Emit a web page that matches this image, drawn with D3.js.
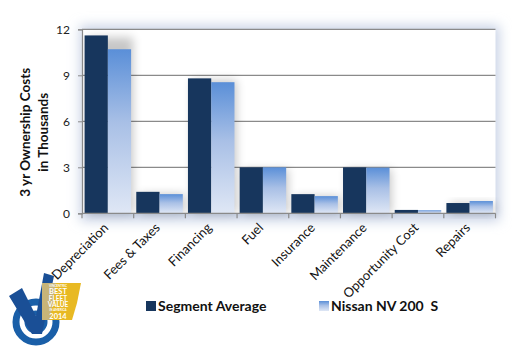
<!DOCTYPE html>
<html>
<head>
<meta charset="utf-8">
<script src="https://cdn.jsdelivr.net/npm/d3@7"></script>
<style>
  body { margin: 0; background: #fff; }
  text { font-family: Lato, "Open Sans", sans-serif; }
</style>
</head>
<body>
<div id="chart"></div>
<script>
// data
var categories = ["Depreciation", "Fees & Taxes", "Financing", "Fuel", "Insurance", "Maintenance", "Opportunity Cost", "Repairs"];
var segmentAvg = [11.6, 1.4, 8.8, 3.0, 1.25, 3.0, 0.22, 0.67];
var nissan = [10.7, 1.25, 8.55, 3.0, 1.12, 2.98, 0.2, 0.8];
var seriesNames = ["Segment Average", "Nissan NV 200  S"];
var yTicks = [0, 3, 6, 9, 12];

var w = 512, h = 353;
// plot area (note: "top" is reserved on window, so p-prefixed)
var pLeft = 82, pRight = 495.5, pTop = 29.3, pBottom = 213.3;

var svg = d3.select("#chart").append("svg")
  .attr("width", w).attr("height", h);

var defs = svg.append("defs");
var grad = defs.append("linearGradient").attr("id", "lightGrad")
  .attr("x1", 0).attr("y1", 0).attr("x2", 0).attr("y2", 1);
grad.append("stop").attr("offset", "0%").attr("stop-color", "#5a8fd8");
grad.append("stop").attr("offset", "45%").attr("stop-color", "#a9c0e6");
grad.append("stop").attr("offset", "100%").attr("stop-color", "#dfe7f5");

var glow = defs.append("filter").attr("id", "glow")
  .attr("x", "-20%").attr("y", "-20%").attr("width", "140%").attr("height", "140%");
glow.append("feGaussianBlur").attr("stdDeviation", 6);

var barShadow = defs.append("filter").attr("id", "barShadow")
  .attr("x", "-50%").attr("y", "-50%").attr("width", "200%").attr("height", "200%");
barShadow.append("feGaussianBlur").attr("stdDeviation", 5);

var x = d3.scaleBand().domain(categories).range([pLeft, pRight]).paddingInner(0.1).paddingOuter(0.05);
var x0 = d3.scaleBand().domain(categories).range([pLeft, pRight]);
var xs = d3.scaleBand().domain([0, 1]).range([0, x.bandwidth()]);
var y = d3.scaleLinear().domain([0, 12]).range([pBottom, pTop]);

// plot area glow
svg.append("rect")
  .attr("x", pLeft - 2).attr("y", pTop - 4)
  .attr("width", pRight - pLeft + 6).attr("height", pBottom - pTop + 12)
  .attr("fill", "#c9d3e6").attr("filter", "url(#glow)");
svg.append("rect")
  .attr("x", pLeft).attr("y", pTop)
  .attr("width", pRight - pLeft).attr("height", pBottom - pTop)
  .attr("fill", "#fff");

// gridlines
svg.append("g").selectAll("line")
  .data(yTicks.filter(function(d) { return d > 0; }))
  .enter().append("line")
  .attr("x1", pLeft).attr("x2", pRight)
  .attr("y1", function(d) { return y(d); })
  .attr("y2", function(d) { return y(d); })
  .attr("stroke", "#8a8a8a").attr("stroke-width", 1.2);

// bar groups, with soft shadows behind
var groups = svg.append("g").selectAll("g")
  .data(categories).enter().append("g")
  .attr("transform", function(d) { return "translate(" + x(d) + ",0)"; });

groups.append("rect")
  .attr("x", 4).attr("width", x.bandwidth() - 2)
  .attr("y", function(d, i) { return y(Math.max(segmentAvg[i], nissan[i])) + 2; })
  .attr("height", function(d, i) { return pBottom - y(Math.max(segmentAvg[i], nissan[i])) - 2; })
  .attr("fill", "#000").attr("opacity", 0.22)
  .attr("filter", "url(#barShadow)");

groups.append("rect")
  .attr("x", xs(0)).attr("width", xs.bandwidth())
  .attr("y", function(d, i) { return y(segmentAvg[i]); })
  .attr("height", function(d, i) { return pBottom - y(segmentAvg[i]); })
  .attr("fill", "#17365d");

groups.append("rect")
  .attr("x", xs(1)).attr("width", xs.bandwidth())
  .attr("y", function(d, i) { return y(nissan[i]); })
  .attr("height", function(d, i) { return pBottom - y(nissan[i]); })
  .attr("fill", "url(#lightGrad)");

// y axis
var yAxis = svg.append("g")
  .attr("transform", "translate(" + pLeft + ",0)")
  .call(d3.axisLeft(y).tickValues(yTicks).tickSize(4).tickPadding(8));
yAxis.select(".domain").attr("stroke", "#8a8a8a").attr("stroke-width", 1.2);
yAxis.selectAll(".tick line").attr("stroke", "#8a8a8a");
yAxis.selectAll(".tick text").attr("fill", "#222")
  .attr("font-family", "'DejaVu Sans', sans-serif").attr("font-size", "12px");

// x axis
var xAxis = svg.append("g")
  .attr("transform", "translate(0," + pBottom + ")");
xAxis.append("line").attr("x1", pLeft).attr("x2", pRight)
  .attr("stroke", "#8a8a8a").attr("stroke-width", 1.2);
xAxis.selectAll("line.tk")
  .data(categories.concat(["end"])).enter().append("line")
  .attr("class", "tk")
  .attr("x1", function(d, i) { return pLeft + i * x0.bandwidth(); })
  .attr("x2", function(d, i) { return pLeft + i * x0.bandwidth(); })
  .attr("y1", 0).attr("y2", 5)
  .attr("stroke", "#8a8a8a").attr("stroke-width", 1.2);
xAxis.selectAll("text")
  .data(categories).enter().append("text")
  .attr("transform", function(d) {
    return "translate(" + (x0(d) + x0.bandwidth() / 2 - 2) + ",12) rotate(-45)";
  })
  .attr("text-anchor", "end")
  .attr("dy", "0.35em")
  .attr("font-size", "13px")
  .attr("fill", "#111")
  .text(function(d) { return d; });

// y label
var yl = svg.append("text")
  .attr("transform", "translate(32," + ((pTop + pBottom) / 2 + 11) + ") rotate(-90)")
  .attr("text-anchor", "middle")
  .attr("font-size", "13.5px").attr("font-weight", "bold").attr("fill", "#111");
yl.append("tspan").attr("x", 0).attr("dy", "-0.15em").text("3 yr Ownership Costs");
yl.append("tspan").attr("x", 0).attr("dy", "1.3em").text("in Thousands");

// legend
var legendX = [146, 319];
var legend = svg.append("g").selectAll("g")
  .data(seriesNames).enter().append("g")
  .attr("transform", function(d, i) { return "translate(" + legendX[i] + ",301)"; });
legend.append("rect")
  .attr("width", 10).attr("height", 10)
  .attr("fill", function(d, i) { return i === 0 ? "#17365d" : "url(#lightGrad)"; });
legend.append("text")
  .attr("x", 12).attr("y", 10)
  .attr("font-size", "14px").attr("font-weight", "bold").attr("fill", "#111")
  .attr("xml:space", "preserve")
  .text(function(d) { return d; });

// badge logo
var logo = svg.append("g");
logo.append("circle").attr("cx", 36).attr("cy", 322).attr("r", 20)
  .attr("fill", "none").attr("stroke", "#1a5fa8").attr("stroke-width", 7);
logo.append("circle").attr("cx", 36).attr("cy", 322).attr("r", 9)
  .attr("fill", "none").attr("stroke", "#1a5fa8").attr("stroke-width", 5);
logo.append("path")
  .attr("d", "M9,296 L22,288 L36,316 L44,273 L54,276 L42,334 L32,334 Z")
  .attr("fill", "#1a4f96");
logo.append("path")
  .attr("d", "M42,283 L81,283 L77,303 L72,320 L42,320 Z")
  .attr("fill", "#e8b923");
logo.append("path")
  .attr("d", "M42,283 L56,283 L50,320 L42,320 Z")
  .attr("fill", "#b0b0b0").attr("opacity", 0.6);
var lt = logo.append("text").attr("fill", "#fff").attr("font-weight", "bold")
  .attr("text-anchor", "middle").attr("font-family", "'DejaVu Sans', sans-serif");
lt.append("tspan").attr("x", 58).attr("y", 286.5).attr("font-size", "3px").text("VINCENTRIC");
lt.append("tspan").attr("x", 58).attr("y", 294).attr("font-size", "7.5px").text("BEST");
lt.append("tspan").attr("x", 58).attr("y", 300.5).attr("font-size", "6.5px").text("FLEET");
lt.append("tspan").attr("x", 58).attr("y", 307).attr("font-size", "6.5px").text("VALUE");
lt.append("tspan").attr("x", 58).attr("y", 311).attr("font-size", "3px").text("IN AMERICA");
lt.append("tspan").attr("x", 58).attr("y", 319).attr("font-size", "7.5px").text("2014");
</script>
</body>
</html>
